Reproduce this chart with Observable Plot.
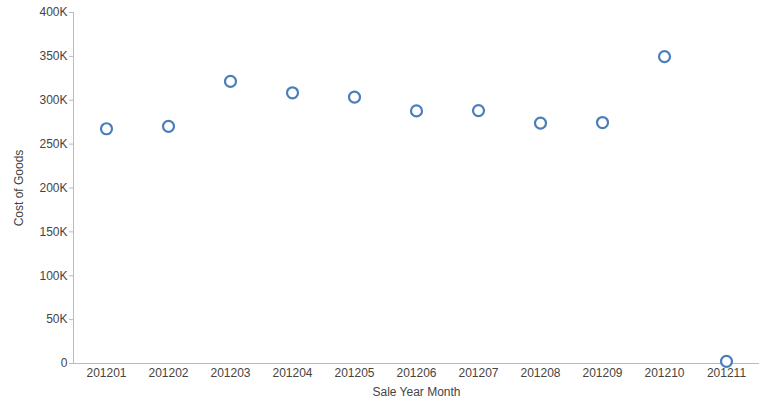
<!DOCTYPE html>
<html>
<head>
<meta charset="utf-8">
<script src="https://cdn.jsdelivr.net/npm/d3@7"></script>
<script src="https://cdn.jsdelivr.net/npm/@observablehq/plot@0.6"></script>
<style>
  html, body { margin: 0; padding: 0; background: #fff; }
  #chart svg { display: block; }
</style>
</head>
<body>
<div id="chart"></div>
<script>
const months = ["201201","201202","201203","201204","201205","201206","201207","201208","201209","201210","201211"];
const costOfGoods = [267500, 270300, 321500, 308500, 303500, 287800, 288200, 274000, 274600, 349800, 2500];
const yTicks = [0, 50000, 100000, 150000, 200000, 250000, 300000, 350000, 400000];

const data = months.map((m, i) => ({month: m, cost: costOfGoods[i]}));

const chart = Plot.plot({
  width: 770,
  height: 406,
  marginLeft: 73,
  marginRight: 11,
  marginTop: 12,
  marginBottom: 43,
  style: {fontFamily: "'Liberation Sans', Arial, sans-serif", fontSize: "12px", color: "#444", background: "#fff"},
  x: {type: "point", domain: months, padding: 0.5},
  y: {domain: [0, 400000]},
  marks: [
    Plot.axisY({
      ticks: yTicks,
      tickFormat: d => d === 0 ? "0" : d / 1000 + "K",
      tickSize: 4,
      tickPadding: 2,
      stroke: "#bbb",
      fill: "#444",
      fontSize: 12,
      label: "Cost of Goods",
      labelAnchor: "center",
      labelArrow: "none",
      labelOffset: 59
    }),
    Plot.axisX({
      tickSize: 0,
      tickPadding: 5,
      fill: "#444",
      fontSize: 12,
      label: "Sale Year Month",
      labelAnchor: "center",
      labelArrow: "none",
      labelOffset: 32
    }),
    Plot.ruleY([0], {stroke: "#bbb"}),
    Plot.dot(data, {x: "month", y: "cost", r: 5.5, stroke: "#4a7ebb", strokeWidth: 2.2, fill: "#fff"})
  ]
});

// left axis line
const svg = d3.select(chart);
svg.append("line")
  .attr("x1", 73.5).attr("x2", 73.5)
  .attr("y1", 12).attr("y2", 363)
  .attr("stroke", "#bbb");

document.getElementById("chart").appendChild(chart);
</script>
</body>
</html>
